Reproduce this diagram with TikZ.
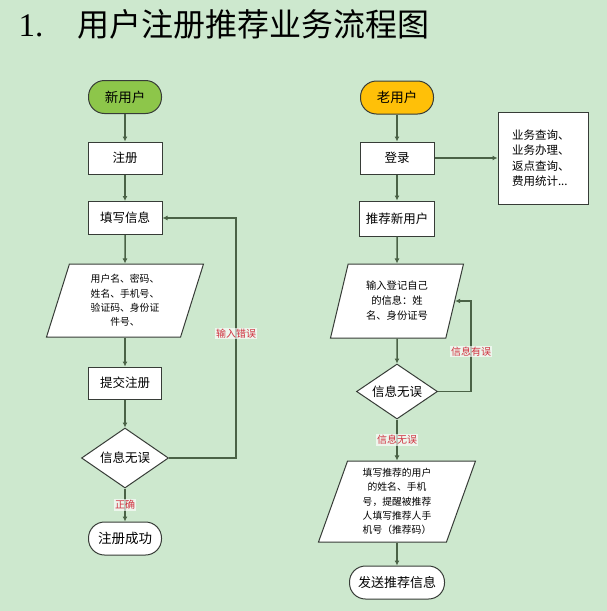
\documentclass[tikz,border=0pt]{standalone}
\usepackage{fontspec}
\setmainfont{Noto Sans CJK SC}
\newfontfamily\numfont{Liberation Serif}
\usetikzlibrary{shapes.geometric, arrows.meta}
\definecolor{bggreen}{RGB}{205,232,206}
\definecolor{newgreen}{RGB}{141,198,74}
\definecolor{oldorange}{RGB}{255,192,8}
\definecolor{flowline}{RGB}{74,98,70}
\definecolor{boxline}{RGB}{55,60,55}
\definecolor{labelred}{RGB}{208,48,62}

\begin{document}
\begin{tikzpicture}[
  x=1pt, y=-1pt,
  term/.style={draw=boxline, line width=1pt, fill=white, rounded corners=16pt, minimum width=73pt, minimum height=33pt, inner sep=2pt, font=\fontsize{13.5}{15}\selectfont},
  proc/.style={draw=boxline, line width=1pt, fill=white, minimum width=74pt, minimum height=32pt, inner sep=2pt, font=\fontsize{12.5}{14}\selectfont},
  inout/.style={draw=boxline, line width=1pt, fill=white, trapezium, trapezium left angle=67, trapezium right angle=113, trapezium stretches body, align=center, inner sep=1pt, font=\fontsize{9.8}{14.3}\selectfont},
  check/.style={draw=boxline, line width=1pt, fill=white, diamond, aspect=1.45, inner sep=0pt, font=\fontsize{12.5}{14}\selectfont},
  tag/.style={text=labelred, fill=white, fill opacity=0.65, text opacity=1, inner sep=1pt, font=\fontsize{10}{12}\selectfont},
  flow/.style={draw=flowline, line width=1.5pt, -{Latex[length=5pt, width=5pt]}}
]
  \fill[bggreen] (0,0) rectangle (607,611);

  \node[anchor=base west, font=\fontsize{33}{38}\selectfont\numfont] (num) at (15,36) {1.};
  \node[anchor=base west, font=\fontsize{32}{38}\selectfont, inner sep=0pt] (title) at (77,36) {用户注册推荐业务流程图};

  % new user branch
  \node[term, fill=newgreen] (newu) at (125,97) {新用户};
  \node[proc] (reg) at (125,158) {注册};
  \node[proc, minimum height=33pt] (fillin) at (125,218) {填写信息};
  \node[inout, minimum width=157pt, minimum height=73pt] (info) at (125,300.5) {用户名、密码、\\姓名、手机号、\\验证码、身份证\\件号、};
  \node[proc, minimum width=73pt] (submit) at (125,383) {提交注册};
  \node[check, minimum width=87pt, minimum height=60pt] (chk1) at (125,458) {信息无误};
  \node[term] (done) at (125,538.5) {注册成功};

  % old user branch
  \node[term, fill=oldorange] (oldu) at (397,97.5) {老用户};
  \node[proc] (login) at (397,158) {登录};
  \node[draw=boxline, line width=1pt, fill=white, minimum width=90pt, minimum height=92pt, text width=62pt, align=left, font=\fontsize{11.5}{15.5}\selectfont] (svc) at (543,158) {业务查询、\\业务办理、\\返点查询、\\费用统计...};
  \node[proc, minimum width=75pt, minimum height=35pt] (recom) at (397,218.5) {推荐新用户};
  \node[inout, minimum width=133pt, minimum height=74pt, font=\fontsize{10.3}{15}\selectfont] (self) at (397,301) {输入登记自己\\的信息：姓\\名、身份证号};
  \node[check, minimum width=81pt, minimum height=55pt] (chk2) at (397,391.5) {信息无误};
  \node[inout, minimum width=157pt, minimum height=81pt] (refer) at (397,501.5) {填写推荐的用户\\的姓名、手机\\号，提醒被推荐\\人填写推荐人手\\机号（推荐码）};
  \node[term, minimum width=95pt, font=\fontsize{13}{15}\selectfont] (send) at (397,582.5) {发送推荐信息};

  \draw[flow] (newu) -- (reg);
  \draw[flow] (reg) -- (fillin);
  \draw[flow] (fillin) -- (info);
  \draw[flow] (info) -- (submit);
  \draw[flow] (submit) -- (chk1);
  \draw[flow] (chk1) -- node[tag] {正确} (done);
  \draw[flow] (chk1.east) -- ++(67,0) |- node[tag, pos=0.26] {输入错误} (fillin.east);

  \draw[flow] (oldu) -- (login);
  \draw[flow] (login) -- (svc);
  \draw[flow] (login) -- (recom);
  \draw[flow] (recom) -- (self);
  \draw[flow] (self) -- (chk2);
  \draw[flow] (chk2.east) -- ++(33,0) |- node[tag, pos=0.22] {信息有误} (self.east);
  \draw[flow] (chk2) -- node[tag] {信息无误} (refer);
  \draw[flow] (refer) -- (send);
\end{tikzpicture}
\end{document}
